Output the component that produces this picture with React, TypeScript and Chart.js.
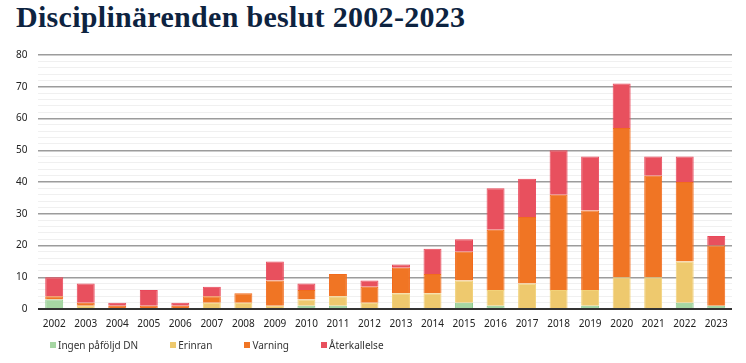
import React, { useEffect, useRef } from "react";
import { Chart, registerables } from "chart.js";

Chart.register(...registerables);

const years = ["2002","2003","2004","2005","2006","2007","2008","2009","2010","2011","2012","2013","2014","2015","2016","2017","2018","2019","2020","2021","2022","2023"];
const ingenPafoljd = [3,0,0,0,0,0,0,0,1,1,0,0,0,2,1,0,0,1,0,0,2,1];
const erinran =      [0,1,0,0,0,2,2,1,2,3,2,5,5,7,5,8,6,5,10,10,13,0];
const varning =      [1,1,1,1,1,2,3,8,3,7,5,8,6,9,19,21,30,25,47,32,25,19];
const aterkallelse = [6,6,1,5,1,3,0,6,2,0,2,1,8,4,13,12,14,17,14,6,8,3];

const seriesNames = ["Ingen påföljd DN", "Erinran", "Varning", "Återkallelse"];
const seriesColors = ["#a6d6a3", "#eec96e", "#f07524", "#e8505e"];
const seriesBorders = ["#8fcc8f", "#f2d27a", "#f26b1c", "#e9475a"];

const yMax = 80;
const yStep = 2;
const yLabelStep = 10;

export default function App() {
  const ref = useRef<HTMLCanvasElement | null>(null);
  useEffect(() => {
    if (!ref.current) return;
    const values = [ingenPafoljd, erinran, varning, aterkallelse];
    const chart = new Chart(ref.current, {
      type: "bar",
      data: {
        labels: years,
        datasets: values.map((d, i) => ({
          label: seriesNames[i],
          data: d,
          backgroundColor: seriesColors[i],
          borderColor: seriesBorders[i],
          borderWidth: 1,
        })),
      },
      options: {
        animation: false,
        responsive: false,
        maintainAspectRatio: false,
        layout: { padding: { left: 5, right: 14, top: 6, bottom: 4 } },
        datasets: { bar: { categoryPercentage: 1, barPercentage: 0.57 } },
        plugins: {
          legend: { display: false },
          tooltip: { enabled: false },
        },
        scales: {
          x: {
            stacked: true,
            grid: { display: false, drawTicks: false },
            border: { display: false },
            ticks: { color: "#222", font: { family: "Noto Sans", size: 10 }, padding: 9, maxRotation: 0, autoSkip: false },
          },
          y: {
            stacked: true,
            min: 0,
            max: yMax,
            border: { display: false },
            grid: {
              drawTicks: false,
              color: (ctx: any) => {
                const v = ctx.tick ? ctx.tick.value : 0;
                if (v === 0) return "#333";
                return v % yLabelStep === 0 ? "#9c9c9c" : "#f0f0f0";
              },
              lineWidth: (ctx: any) => {
                const v = ctx.tick ? ctx.tick.value : 0;
                if (v === 0) return 2;
                return v % yLabelStep === 0 ? 1.5 : 1;
              },
            },
            ticks: {
              stepSize: yStep,
              autoSkip: false,
              padding: 11,
              color: "#222",
              font: { family: "Noto Sans", size: 10 },
              callback: (v: any) => (Number(v) % yLabelStep === 0 ? String(v) : ""),
            },
          },
        },
      },
    });
    return () => chart.destroy();
  }, []);
  return (
    <div style={{ position: "absolute", left: 0, top: 0, width: 746, height: 363, background: "#fff" }}>
      <div
        style={{
          position: "absolute",
          left: 16,
          top: 0,
          fontFamily: "'Liberation Serif', serif",
          fontWeight: 700,
          fontSize: 30,
          letterSpacing: "0.3px",
          lineHeight: "34px",
          color: "#0d2340",
          whiteSpace: "nowrap",
        }}
      >
        Disciplinärenden beslut 2002-2023
      </div>
      <canvas ref={ref} width={746} height={305} style={{ position: "absolute", left: 0, top: 38, width: 746, height: 305 }} />
      <div
        style={{
          position: "absolute",
          left: 50,
          top: 338,
          display: "flex",
          alignItems: "center",
          fontFamily: "'Noto Sans', sans-serif",
          fontSize: 10,
          lineHeight: "14px",
          color: "#333",
          whiteSpace: "nowrap",
        }}
      >
        {seriesNames.map((name, i) => (
          <div key={name} style={{ display: "flex", alignItems: "center", marginRight: 32 }}>
            <span style={{ display: "inline-block", width: 6, height: 6, background: seriesColors[i], marginRight: 2 }} />
            <span>{name}</span>
          </div>
        ))}
      </div>
    </div>
  );
}
